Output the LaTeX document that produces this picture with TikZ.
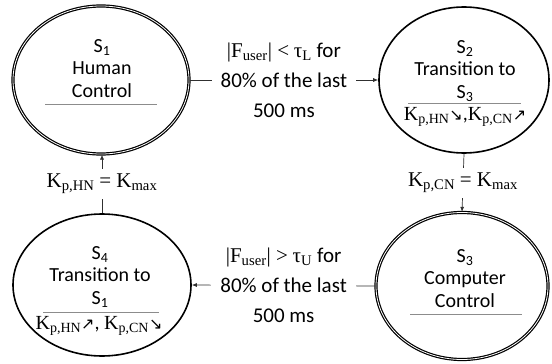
\documentclass[tikz,border=0pt]{standalone}
\usepackage{fontspec}
\setmainfont{Carlito}
\newfontfamily\serif{Liberation Serif}
\newfontfamily\arrowfont{DejaVu Sans}
\usetikzlibrary{arrows.meta,positioning,calc,shapes.geometric}
\definecolor{rulegray}{HTML}{8C8C8C}
\definecolor{linegray}{HTML}{303030}
\newcommand{\Kp}[1]{{\serif K\textsubscript{#1}}}
\newcommand{\up}{{\arrowfont\scalebox{0.8}{↗}}}
\newcommand{\dn}{{\arrowfont\scalebox{0.8}{↘}}}

\begin{document}
\begin{tikzpicture}[x=1pt,y=-1pt,
  state/.style={ellipse,draw=black,line width=1.6pt,inner sep=0pt,
    minimum width=174pt,minimum height=146pt},
  dstate/.style={state,double=white,double distance=0.8pt,line width=1.2pt},
  txt/.style={align=center,inner sep=0pt,font=\fontsize{20}{22.5}\selectfont},
  lab/.style={align=center,fill=white,inner xsep=9pt,inner ysep=7pt,
    font=\fontsize{21}{30}\selectfont},
  arr/.style={-{Latex[length=5pt,width=4pt]},line width=0.7pt,draw=linegray},
  sep/.style={draw=rulegray,line width=0.7pt}]

  \useasboundingbox (0,0) rectangle (552,364);

  % states
  \node[dstate,minimum width=176pt,minimum height=148pt] (s1) at (101,80) {};
  \node[state,minimum width=170pt,minimum height=146pt] (s2) at (464,80) {};
  \node[dstate,minimum width=172pt,minimum height=147pt] (s3) at (462,286) {};
  \node[state,minimum width=178pt,minimum height=142pt] (s4) at (102,285) {};

  % state texts
  \node[txt,anchor=north] (s1t) at (102,39) {S\textsubscript{1}\\Human\\Control};
  \draw[sep] ($(s1)+(-56,24)$) -- ($(s1)+(56,24)$);

  \node[txt,anchor=north] (s2t) at (465,40) {S\textsubscript{2}\\Transition to\\S\textsubscript{3}};
  \draw[sep] ($(s2)+(-56,23)$) -- ($(s2)+(57,23)$);
  \node[txt,anchor=north] (s2k) at (465,107) {\Kp{p,HN}\dn,\Kp{p,CN}\up};

  \node[txt,anchor=north] (s3t) at (465,249) {S\textsubscript{3}\\Computer\\Control};
  \draw[sep] ($(s3)+(-52,28)$) -- ($(s3)+(60,28)$);

  \node[txt,anchor=north] (s4t) at (100,246) {S\textsubscript{4}\\Transition to\\S\textsubscript{1}};
  \draw[sep] ($(s4)+(-59,27)$) -- ($(s4)+(57,27)$);
  \node[txt,anchor=north] (s4k) at (99,316) {\Kp{p,HN}\up, \Kp{p,CN}\dn};

  % transitions
  \draw[arr] (s1.east) -- node[lab] (c12)
    {{\serif |F\textsubscript{user}| <} {\serif τ\textsubscript{L}} for\\80\% of the last\\500 ms} (s2.west);
  \draw[arr] (s2.south) -- node[lab,inner ysep=5pt] (c23)
    {\Kp{p,CN} {\serif = K\textsubscript{max}}} (s3.north);
  \draw[arr] (s3.west) -- node[lab] (c34)
    {{\serif |F\textsubscript{user}| >} {\serif τ\textsubscript{U}} for\\80\% of the last\\500 ms} (s4.east);
  \draw[arr] (s4.north) -- node[lab,inner ysep=5pt] (c41)
    {\Kp{p,HN} {\serif = K\textsubscript{max}}} (s4.north |- s1.south);
\end{tikzpicture}
\end{document}
